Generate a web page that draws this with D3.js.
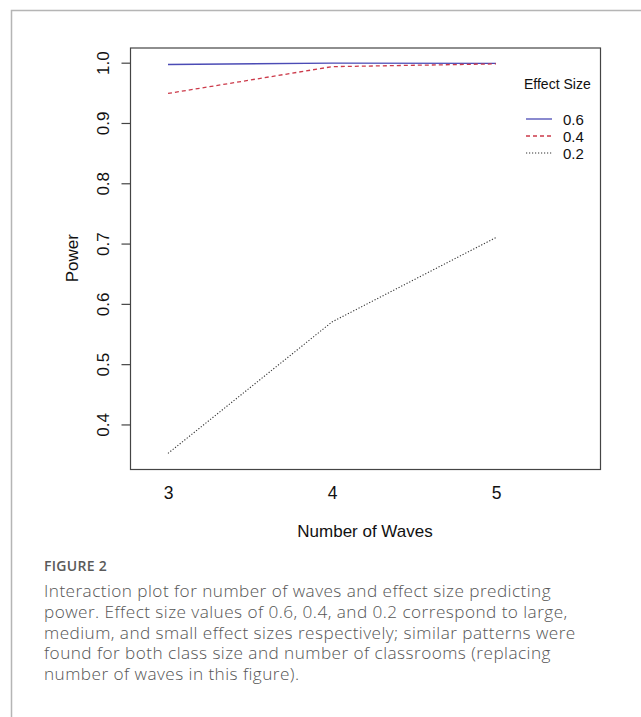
<!DOCTYPE html>
<html>
<head>
<meta charset="utf-8">
<script src="https://cdn.jsdelivr.net/npm/d3@7"></script>
<style>
  html, body { margin: 0; padding: 0; background: #fff; }
  svg { display: block; }
</style>
</head>
<body>
<svg id="chart" width="641" height="717"></svg>
<script>
// ---- data ----
const waves = [3, 4, 5];
const es06 = [0.997, 0.9993, 0.999];
const es04 = [0.949, 0.9934, 0.998];
const es02 = [0.352, 0.570, 0.710];
const seriesNames = ["0.6", "0.4", "0.2"];
const yTicks = [0.4, 0.5, 0.6, 0.7, 0.8, 0.9, 1.0];
const xTicks = [3, 4, 5];
const captionHead = "FIGURE 2";
const captionLines = [
  "Interaction plot for number of waves and effect size predicting",
  "power. Effect size values of 0.6, 0.4, and 0.2 correspond to large,",
  "medium, and small effect sizes respectively; similar patterns were",
  "found for both class size and number of classrooms (replacing",
  "number of waves in this figure)."
];

const svg = d3.select("#chart");
const plot = { left: 130, right: 600, top: 47.5, bottom: 469 };

// outer frame (top and left rules)
svg.append("path")
  .attr("d", `M11.5,717 L11.5,10.5 L641,10.5`)
  .attr("fill", "none").attr("stroke", "#b5b5b5").attr("stroke-width", 1.5);

const allVals = es06.concat(es04, es02);
const lo = d3.min(allVals), hi = d3.max(allVals);
const pad = (hi - lo) * 0.04;
const y = d3.scaleLinear().domain([lo - pad, hi + pad]).range([plot.bottom, plot.top]);
const x = d3.scaleLinear().domain([3, 5]).range([168, 496]);

const fontChart = "'Liberation Sans', Arial, sans-serif";

// plot box
svg.append("rect")
  .attr("x", plot.left + 0.5).attr("y", plot.top + 0.5)
  .attr("width", plot.right - plot.left).attr("height", plot.bottom - plot.top)
  .attr("fill", "none").attr("stroke", "#444").attr("stroke-width", 1.2);

// y axis
const yAxis = d3.axisLeft(y).tickValues(yTicks).tickFormat(d3.format(".1f")).tickSize(9).tickPadding(0);
const gy = svg.append("g").attr("transform", `translate(${plot.left + 0.5},0)`).call(yAxis);
gy.select(".domain").remove();
gy.selectAll(".tick line").attr("stroke", "#444").attr("stroke-width", 1.2);
gy.selectAll(".tick text")
  .attr("x", null).attr("dy", null)
  .attr("transform", "translate(-27,0) rotate(-90)")
  .attr("text-anchor", "middle")
  .attr("dominant-baseline", "central")
  .attr("font-family", fontChart).attr("font-size", 17).attr("fill", "#111");

// x axis (labels only)
const xAxis = d3.axisBottom(x).tickValues(xTicks).tickFormat(d3.format("d")).tickSize(0).tickPadding(0);
const gx = svg.append("g").attr("transform", `translate(0,${plot.bottom})`).call(xAxis);
gx.select(".domain").remove();
gx.selectAll(".tick text")
  .attr("y", 24).attr("dy", null)
  .attr("dominant-baseline", "central")
  .attr("font-family", fontChart).attr("font-size", 17.5).attr("fill", "#111");

// axis titles
svg.append("text")
  .attr("x", (plot.left + plot.right) / 2).attr("y", 531)
  .attr("text-anchor", "middle").attr("dominant-baseline", "central")
  .attr("font-family", fontChart).attr("font-size", 17).attr("fill", "#111")
  .text("Number of Waves");
svg.append("text")
  .attr("transform", `translate(72,${(plot.top + plot.bottom) / 2}) rotate(-90)`)
  .attr("text-anchor", "middle").attr("dominant-baseline", "central")
  .attr("font-family", fontChart).attr("font-size", 17).attr("fill", "#111")
  .text("Power");

// series
const styles = [
  { vals: es06, color: "#4b4bb5", dash: null, width: 1.3 },
  { vals: es04, color: "#cc3a4a", dash: "4,3", width: 1.3 },
  { vals: es02, color: "#333", dash: "1.2,1.8", width: 1.1 }
];
const line = d3.line().x((d, i) => x(waves[i])).y(d => y(d));
styles.forEach(s => {
  svg.append("path")
    .datum(s.vals)
    .attr("d", line)
    .attr("fill", "none")
    .attr("stroke", s.color)
    .attr("stroke-width", s.width)
    .attr("stroke-dasharray", s.dash);
});

// legend
svg.append("text")
  .attr("x", 524).attr("y", 84)
  .attr("dominant-baseline", "central")
  .attr("font-family", fontChart).attr("font-size", 14).attr("fill", "#111")
  .text("Effect Size");
const legY = d3.scalePoint().domain(seriesNames).range([119, 153]);
seriesNames.forEach((name, i) => {
  const s = styles[i];
  svg.append("line")
    .attr("x1", 526).attr("x2", 552)
    .attr("y1", legY(name)).attr("y2", legY(name))
    .attr("stroke", s.color).attr("stroke-width", s.width)
    .attr("stroke-dasharray", s.dash);
  svg.append("text")
    .attr("x", 563).attr("y", legY(name))
    .attr("dominant-baseline", "central")
    .attr("font-family", fontChart).attr("font-size", 15).attr("fill", "#111")
    .text(name);
});

// caption
svg.append("text")
  .attr("x", 44).attr("y", 571)
  .attr("font-family", "'Open Sans', sans-serif").attr("font-size", 14)
  .attr("font-weight", 600).attr("letter-spacing", 0.3).attr("fill", "#5a5a5a")
  .text(captionHead);
captionLines.forEach((t, i) => {
  svg.append("text")
    .attr("x", 44).attr("y", 597 + i * 20.8)
    .attr("font-family", "'Open Sans', sans-serif").attr("font-size", 17.2)
    .attr("font-weight", 300).attr("letter-spacing", 0.45).attr("fill", "#555")
    .text(t);
});
</script>
</body>
</html>
